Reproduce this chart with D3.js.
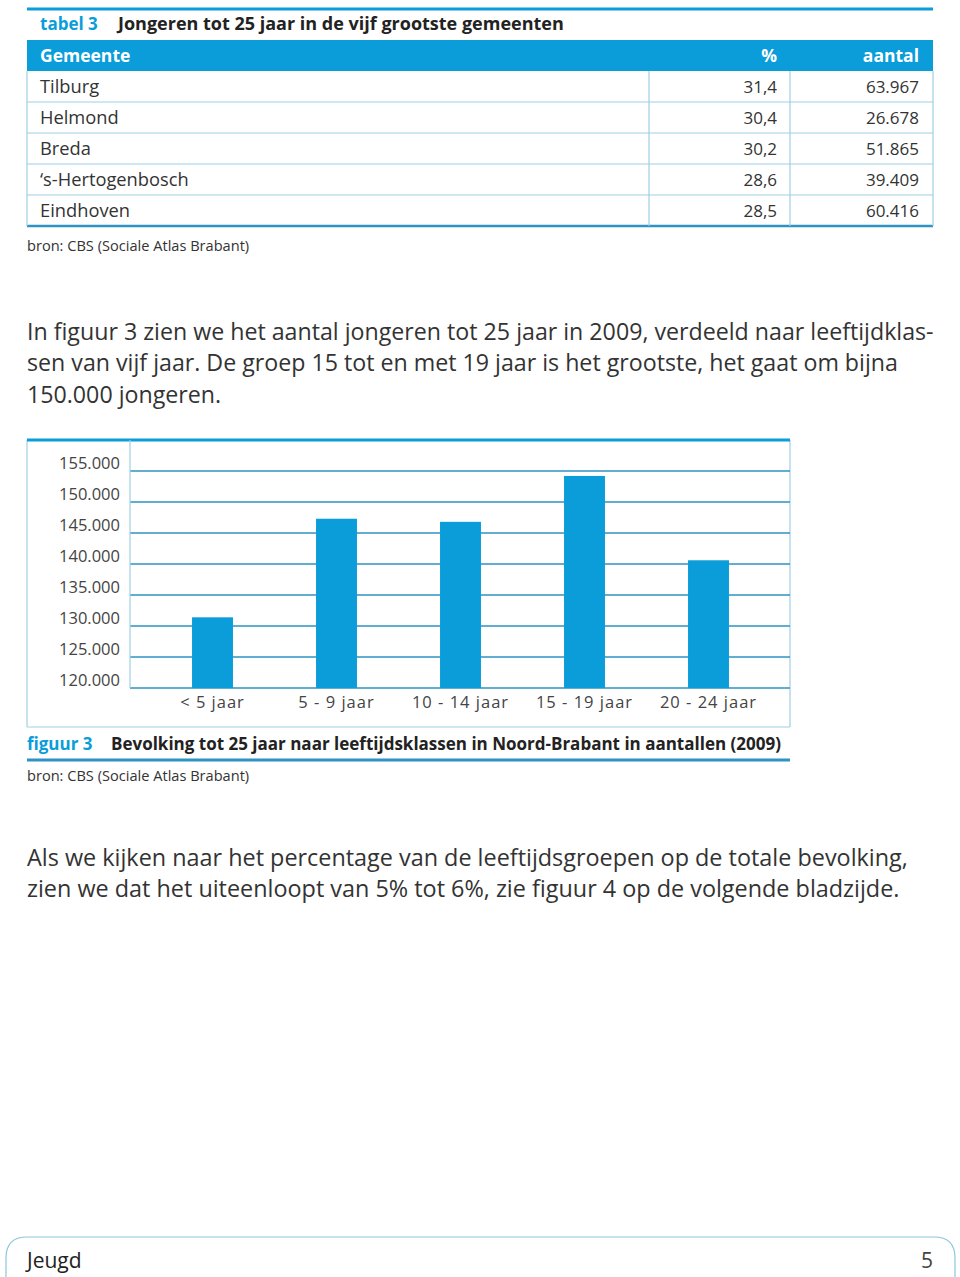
<!DOCTYPE html>
<html><head><meta charset="utf-8">
<script src="https://cdn.jsdelivr.net/npm/d3@7"></script>
<style>body{margin:0;background:#fff}svg{display:block}text{font-family:"Open Sans",sans-serif}</style>
</head><body><div id="c"></div>
<script>
const gemeenten = ["Tilburg","Helmond","Breda","\u2018s-Hertogenbosch","Eindhoven"];
const percentages = ["31,4","30,4","30,2","28,6","28,5"];
const aantallen = ["63.967","26.678","51.865","39.409","60.416"];
const leeftijdsklassen = ["< 5 jaar","5 - 9 jaar","10 - 14 jaar","15 - 19 jaar","20 - 24 jaar"];
const bevolking = [131400, 147300, 146800, 154200, 140600];
const yTicks = [120000,125000,130000,135000,140000,145000,150000,155000];

const BLUE = "#0a9dd9", DARK = "#333", LINE = "#9fcfe3", GRID = "#2e93c4";
const svg = d3.select("#c").append("svg").attr("width",960).attr("height",1277);

// ---- Table ----
const tL = 27, tR = 933;
svg.append("line").attr("x1",tL).attr("x2",tR).attr("y1",9).attr("y2",9).attr("stroke",BLUE).attr("stroke-width",3);
const tt = svg.append("text").attr("x",40).attr("y",30).attr("font-size",18).attr("font-weight",700);
tt.append("tspan").attr("fill",BLUE).attr("font-size",17).text("tabel 3");
tt.append("tspan").attr("fill","#222").attr("x",118).text("Jongeren tot 25 jaar in de vijf grootste gemeenten");

const rowY = d3.scaleBand().domain(d3.range(6)).range([40, 226]);
svg.append("rect").attr("x",tL).attr("y",rowY(0)).attr("width",tR-tL).attr("height",rowY.bandwidth()).attr("fill",BLUE);
const hy = rowY(0)+rowY.bandwidth()/2+6;
svg.append("text").attr("x",40).attr("y",hy).attr("fill","#fff").attr("font-size",17.5).attr("font-weight",700).text("Gemeente");
svg.append("text").attr("x",777).attr("y",hy).attr("fill","#fff").attr("font-size",17.5).attr("font-weight",700).attr("text-anchor","end").text("%");
svg.append("text").attr("x",919).attr("y",hy).attr("fill","#fff").attr("font-size",17.5).attr("font-weight",700).attr("text-anchor","end").text("aantal");

const body = svg.append("g");
gemeenten.forEach((g,i)=>{
  const y0 = rowY(i+1), y1 = y0 + rowY.bandwidth(), ty = y0 + rowY.bandwidth()/2 + 6;
  body.append("line").attr("x1",tL).attr("x2",tR).attr("y1",y1).attr("y2",y1).attr("stroke",i===4?GRID:LINE).attr("stroke-width",i===4?2.5:1.2);
  body.append("text").attr("x",40).attr("y",ty).attr("fill",DARK).attr("font-size",18.3).text(g);
  body.append("text").attr("x",777).attr("y",ty).attr("fill",DARK).attr("font-size",17).attr("text-anchor","end").text(percentages[i]);
  body.append("text").attr("x",919).attr("y",ty).attr("fill",DARK).attr("font-size",17).attr("text-anchor","end").text(aantallen[i]);
});
[tL, 649, 790, tR].forEach(x=>{
  svg.append("line").attr("x1",x).attr("x2",x).attr("y1",rowY(1)).attr("y2",226).attr("stroke",LINE).attr("stroke-width",1.2);
});
svg.append("text").attr("x",27).attr("y",251).attr("fill",DARK).attr("font-size",14.6).text("bron: CBS (Sociale Atlas Brabant)");

// ---- Paragraph ----
const para1 = ["In figuur 3 zien we het aantal jongeren tot 25 jaar in 2009, verdeeld naar leeftijdklas-",
 "sen van vijf jaar. De groep 15 tot en met 19 jaar is het grootste, het gaat om bijna",
 "150.000 jongeren."];
para1.forEach((l,i)=>svg.append("text").attr("x",27).attr("y",340+i*31.3).attr("fill",DARK).attr("font-size",23.2).text(l));

// ---- Chart ----
const box = {l:27, r:790, t:440, b:727};
svg.append("line").attr("x1",box.l).attr("x2",box.l).attr("y1",box.t).attr("y2",box.b).attr("stroke",LINE).attr("stroke-width",1.2);
svg.append("line").attr("x1",box.r).attr("x2",box.r).attr("y1",box.t).attr("y2",box.b).attr("stroke",LINE).attr("stroke-width",1.2);
svg.append("line").attr("x1",box.l).attr("x2",box.r).attr("y1",box.b).attr("y2",box.b).attr("stroke",LINE).attr("stroke-width",1.2);
svg.append("line").attr("x1",box.l).attr("x2",box.r).attr("y1",box.t).attr("y2",box.t).attr("stroke",BLUE).attr("stroke-width",3);

const y = d3.scaleLinear().domain([120000,155000]).range([688,471]);
const x = d3.scaleBand().domain(leeftijdsklassen).range([150.5,770.5]).paddingInner(0.67).paddingOuter(0.335);
const fmt = d => d3.format(",")(d).replace(/,/g,".");

const grid = svg.append("g");
grid.selectAll("line").data(yTicks).join("line")
  .attr("x1",130).attr("x2",box.r).attr("y1",d=>y(d)).attr("y2",d=>y(d))
  .attr("stroke",GRID).attr("stroke-width",1.4);
svg.append("line").attr("x1",130).attr("x2",130).attr("y1",box.t).attr("y2",688).attr("stroke",LINE).attr("stroke-width",1.2);

svg.append("g").selectAll("rect").data(bevolking).join("rect")
  .attr("x",(d,i)=>x(leeftijdsklassen[i])).attr("width",x.bandwidth())
  .attr("y",d=>y(d)).attr("height",d=>y(120000)-y(d)).attr("fill",BLUE);

const yAxis = svg.append("g").attr("transform","translate(130,0)")
  .call(d3.axisLeft(y).tickValues(yTicks).tickFormat(fmt).tickSize(0).tickPadding(10));
yAxis.select(".domain").remove();
yAxis.selectAll("text").attr("font-size",16.5).attr("fill","#444").attr("font-family","Lato,sans-serif").attr("dy","-0.15em");

const xAxis = svg.append("g").attr("transform","translate(0,688)")
  .call(d3.axisBottom(x).tickSize(0).tickPadding(7));
xAxis.select(".domain").remove();
xAxis.selectAll("text").attr("font-size",16.5).attr("fill","#444").attr("font-family","Lato,sans-serif").attr("letter-spacing","1px").attr("dy","0.8em");

const cap = svg.append("text").attr("x",27).attr("y",750).attr("font-size",17).attr("font-weight",700);
cap.append("tspan").attr("fill",BLUE).text("figuur 3");
cap.append("tspan").attr("fill","#222").attr("x",111).text("Bevolking tot 25 jaar naar leeftijdsklassen in Noord-Brabant in aantallen (2009)");
svg.append("line").attr("x1",box.l).attr("x2",box.r).attr("y1",760).attr("y2",760).attr("stroke",GRID).attr("stroke-width",3);
svg.append("text").attr("x",27).attr("y",781).attr("fill",DARK).attr("font-size",14.6).text("bron: CBS (Sociale Atlas Brabant)");

const para2 = ["Als we kijken naar het percentage van de leeftijdsgroepen op de totale bevolking,",
 "zien we dat het uiteenloopt van 5% tot 6%, zie figuur 4 op de volgende bladzijde."];
para2.forEach((l,i)=>svg.append("text").attr("x",27).attr("y",866+i*31.3).attr("fill",DARK).attr("font-size",23.4).text(l));

// ---- Footer ----
svg.append("path").attr("d","M6,1277 L6,1258 Q6,1237 27,1237 L934,1237 Q955,1237 955,1258 L955,1277")
  .attr("fill","none").attr("stroke","#8cc6dc").attr("stroke-width",1.2);
svg.append("text").attr("x",27).attr("y",1268).attr("fill","#222").attr("font-size",21).text("Jeugd");
svg.append("text").attr("x",933).attr("y",1268).attr("fill","#444").attr("font-size",21).attr("text-anchor","end").text("5");
</script></body></html>
